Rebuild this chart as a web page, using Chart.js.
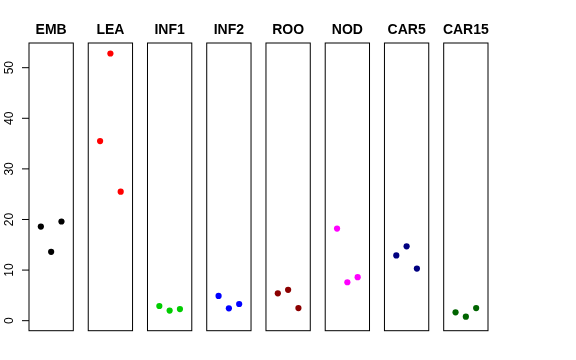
<!DOCTYPE html>
<html><head><meta charset="utf-8">
<script src="https://cdn.jsdelivr.net/npm/chart.js@4/dist/chart.umd.min.js"></script>
<style>html,body{margin:0;padding:0;background:#fff}</style>
</head><body>
<canvas id="c" width="576" height="360"></canvas>
<script>
const categories = ['EMB','LEA','INF1','INF2','ROO','NOD','CAR5','CAR15'];
const colors = ['#000000','#FF0000','#00CD00','#0000FF','#8B0000','#FF00FF','#000080','#006400'];
const valuesEMB   = [18.6, 13.6, 19.6];
const valuesLEA   = [35.5, 52.8, 25.5];
const valuesINF1  = [2.9, 2.0, 2.3];
const valuesINF2  = [4.9, 2.45, 3.3];
const valuesROO   = [5.4, 6.1, 2.5];
const valuesNOD   = [18.2, 7.6, 8.6];
const valuesCAR5  = [12.9, 14.7, 10.3];
const valuesCAR15 = [1.65, 0.8, 2.5];
const yTicks = [0, 10, 20, 30, 40, 50];

const series = [valuesEMB, valuesLEA, valuesINF1, valuesINF2, valuesROO, valuesNOD, valuesCAR5, valuesCAR15];

// layout (in x-scale units)
const PANEL_STEP = 5.75;
const PANEL_PAD = 1.15;
const TICK_LEN = 7;
const nPanels = categories.length;

const datasets = series.map((vals, i) => ({
  label: categories[i],
  data: vals.map((v, j) => ({x: i * PANEL_STEP + (j + 1), y: v})),
  backgroundColor: colors[i],
  borderWidth: 0,
  pointRadius: 3.1,
  pointHoverRadius: 3.1
}));

const panelPlugin = {
  id: 'panels',
  afterDraw(chart) {
    const {ctx, chartArea} = chart;
    const xs = chart.scales.x, ys = chart.scales.y;
    ctx.save();
    ctx.strokeStyle = '#000';
    ctx.lineWidth = 1;
    ctx.fillStyle = '#000';
    ctx.font = 'bold 14px "Liberation Sans", Arial, sans-serif';
    ctx.textAlign = 'center';
    ctx.textBaseline = 'alphabetic';
    for (let i = 0; i < nPanels; i++) {
      const l = xs.getPixelForValue(i * PANEL_STEP + 1 - PANEL_PAD);
      const r = xs.getPixelForValue(i * PANEL_STEP + 3 + PANEL_PAD);
      const t = chartArea.top, b = chartArea.bottom;
      ctx.strokeRect(l, t, r - l, b - t);
      ctx.fillText(categories[i], (l + r) / 2, 34);
    }
    // y-axis tick marks (outward, R style)
    const ax = chartArea.left;
    ctx.beginPath();
    for (let k = 0; k < yTicks.length; k++) {
      const py = ys.getPixelForValue(yTicks[k]);
      ctx.moveTo(ax, py);
      ctx.lineTo(ax - TICK_LEN, py);
    }
    ctx.stroke();
    ctx.restore();
  }
};

new Chart(document.getElementById('c'), {
  type: 'scatter',
  data: {datasets},
  options: {
    responsive: false,
    devicePixelRatio: 1,
    animation: false,
    events: [],
    layout: {padding: {top: 43, bottom: 29.3, left: 0, right: 88}},
    plugins: {legend: {display: false}, tooltip: {enabled: false}},
    scales: {
      x: {
        type: 'linear', display: false,
        min: 1 - PANEL_PAD,
        max: (nPanels - 1) * PANEL_STEP + 3 + PANEL_PAD
      },
      y: {
        type: 'linear',
        min: -1.98, max: 54.88,
        afterBuildTicks: s => { s.ticks = yTicks.map(v => ({value: v})); },
        afterFit: s => { s.width = 29; },
        border: {display: false},
        grid: {display: false},
        ticks: {
          minRotation: 90, maxRotation: 90, crossAlign: 'center', padding: 5,
          color: '#000',
          font: {family: '"Liberation Sans", Arial, sans-serif', size: 12}
        }
      }
    }
  },
  plugins: [panelPlugin]
});
</script>
</body></html>
